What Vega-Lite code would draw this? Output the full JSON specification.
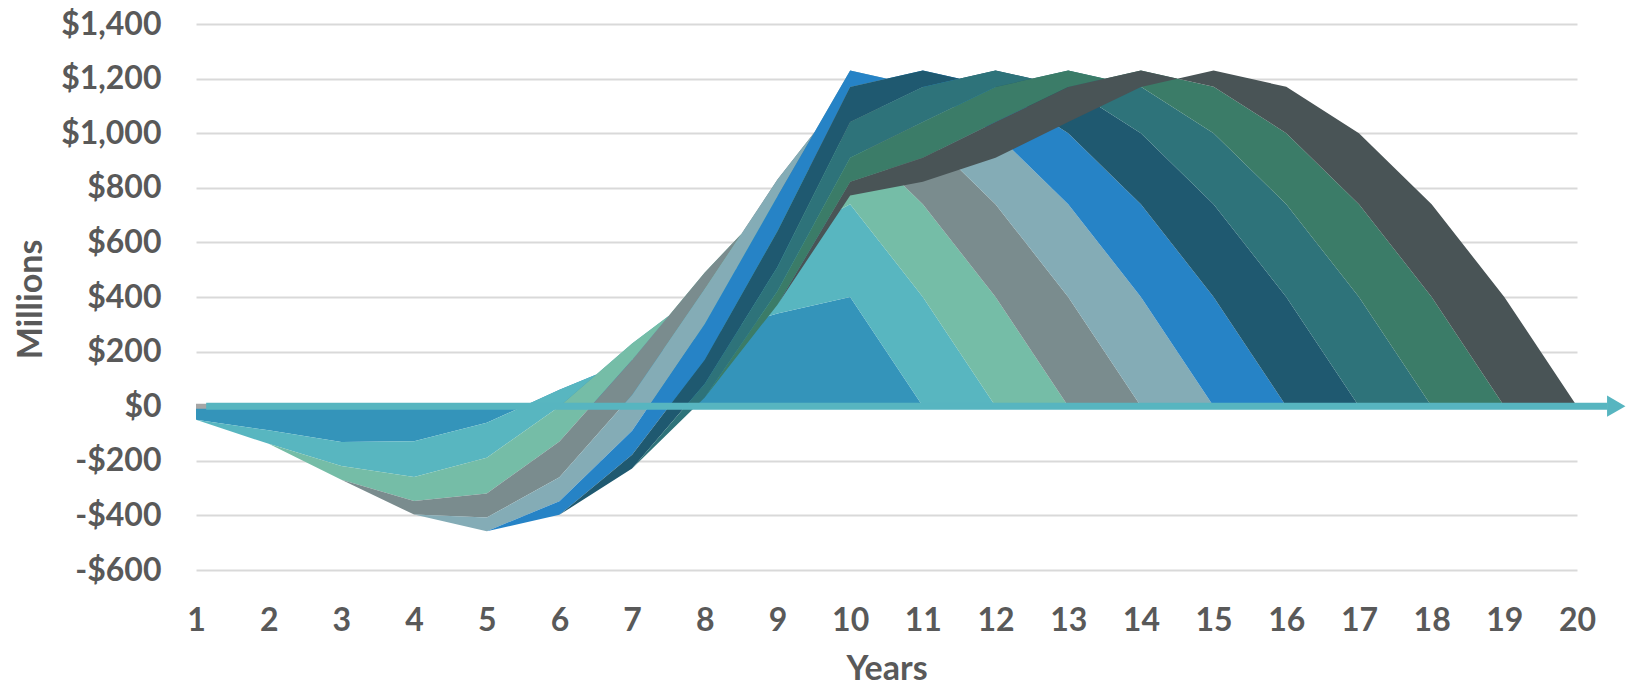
{
  "$schema": "https://vega.github.io/schema/vega-lite/v6.json",
  "width": 1381,
  "height": 546,
  "autosize": {"type": "none"},
  "padding": {"left": 196, "top": 24, "right": 50, "bottom": 117},
  "background": "white",
  "config": {"view": {"stroke": null}},
  "data": {"values": [
        {"s":1,"year":1,"v":-50},{"s":1,"year":2,"v":-88},{"s":1,"year":3,"v":-131},{"s":1,"year":4,"v":-128},{"s":1,"year":5,"v":-61},{"s":1,"year":6,"v":60},{"s":1,"year":7,"v":170},{"s":1,"year":8,"v":260},{"s":1,"year":9,"v":340},{"s":1,"year":10,"v":400},{"s":1,"year":11,"v":0},
        {"s":1,"year":12,"v":0},{"s":1,"year":13,"v":0},{"s":1,"year":14,"v":0},{"s":1,"year":15,"v":0},{"s":1,"year":16,"v":0},{"s":1,"year":17,"v":0},{"s":1,"year":18,"v":0},{"s":1,"year":19,"v":0},{"s":1,"year":20,"v":0},
        {"s":2,"year":1,"v":0},{"s":2,"year":2,"v":-50},{"s":2,"year":3,"v":-88},{"s":2,"year":4,"v":-131},{"s":2,"year":5,"v":-128},{"s":2,"year":6,"v":-61},{"s":2,"year":7,"v":60},{"s":2,"year":8,"v":170},{"s":2,"year":9,"v":260},{"s":2,"year":10,"v":340},{"s":2,"year":11,"v":400},{"s":2,"year":12,"v":0},
        {"s":3,"year":2,"v":0},{"s":3,"year":3,"v":-50},{"s":3,"year":4,"v":-88},{"s":3,"year":5,"v":-131},{"s":3,"year":6,"v":-128},{"s":3,"year":7,"v":-61},{"s":3,"year":8,"v":60},{"s":3,"year":9,"v":170},{"s":3,"year":10,"v":260},{"s":3,"year":11,"v":340},{"s":3,"year":12,"v":400},{"s":3,"year":13,"v":0},
        {"s":4,"year":3,"v":0},{"s":4,"year":4,"v":-50},{"s":4,"year":5,"v":-88},{"s":4,"year":6,"v":-131},{"s":4,"year":7,"v":-128},{"s":4,"year":8,"v":-61},{"s":4,"year":9,"v":60},{"s":4,"year":10,"v":170},{"s":4,"year":11,"v":260},{"s":4,"year":12,"v":340},{"s":4,"year":13,"v":400},{"s":4,"year":14,"v":0},
        {"s":5,"year":4,"v":0},{"s":5,"year":5,"v":-50},{"s":5,"year":6,"v":-88},{"s":5,"year":7,"v":-131},{"s":5,"year":8,"v":-128},{"s":5,"year":9,"v":-61},{"s":5,"year":10,"v":60},{"s":5,"year":11,"v":170},{"s":5,"year":12,"v":260},{"s":5,"year":13,"v":340},{"s":5,"year":14,"v":400},{"s":5,"year":15,"v":0},
        {"s":6,"year":5,"v":0},{"s":6,"year":6,"v":-50},{"s":6,"year":7,"v":-88},{"s":6,"year":8,"v":-131},{"s":6,"year":9,"v":-128},{"s":6,"year":10,"v":-61},{"s":6,"year":11,"v":60},{"s":6,"year":12,"v":170},{"s":6,"year":13,"v":260},{"s":6,"year":14,"v":340},{"s":6,"year":15,"v":400},{"s":6,"year":16,"v":0},
        {"s":7,"year":6,"v":0},{"s":7,"year":7,"v":-50},{"s":7,"year":8,"v":-88},{"s":7,"year":9,"v":-131},{"s":7,"year":10,"v":-128},{"s":7,"year":11,"v":-61},{"s":7,"year":12,"v":60},{"s":7,"year":13,"v":170},{"s":7,"year":14,"v":260},{"s":7,"year":15,"v":340},{"s":7,"year":16,"v":400},{"s":7,"year":17,"v":0},
        {"s":8,"year":7,"v":0},{"s":8,"year":8,"v":-50},{"s":8,"year":9,"v":-88},{"s":8,"year":10,"v":-131},{"s":8,"year":11,"v":-128},{"s":8,"year":12,"v":-61},{"s":8,"year":13,"v":60},{"s":8,"year":14,"v":170},{"s":8,"year":15,"v":260},{"s":8,"year":16,"v":340},{"s":8,"year":17,"v":400},{"s":8,"year":18,"v":0},
        {"s":9,"year":8,"v":0},{"s":9,"year":9,"v":-50},{"s":9,"year":10,"v":-88},{"s":9,"year":11,"v":-131},{"s":9,"year":12,"v":-128},{"s":9,"year":13,"v":-61},{"s":9,"year":14,"v":60},{"s":9,"year":15,"v":170},{"s":9,"year":16,"v":260},{"s":9,"year":17,"v":340},{"s":9,"year":18,"v":400},{"s":9,"year":19,"v":0},
        {"s":10,"year":9,"v":0},{"s":10,"year":10,"v":-50},{"s":10,"year":11,"v":-88},{"s":10,"year":12,"v":-131},{"s":10,"year":13,"v":-128},{"s":10,"year":14,"v":-61},{"s":10,"year":15,"v":60},{"s":10,"year":16,"v":170},{"s":10,"year":17,"v":260},{"s":10,"year":18,"v":340},{"s":10,"year":19,"v":400},{"s":10,"year":20,"v":0}
  ]},
  "transform": [
    {"window": [{"op": "sum", "field": "v", "as": "top"}], "groupby": ["year"], "sort": [{"field": "s", "order": "ascending"}], "frame": [null, 0]},
    {"window": [{"op": "lag", "field": "top", "param": 1, "as": "base"}], "groupby": ["year"], "sort": [{"field": "s", "order": "ascending"}]}
  ],
  "encoding": {
    "x": {
      "field": "year", "type": "quantitative",
      "scale": {"domain": [1, 20], "nice": false, "zero": false},
      "axis": {
        "values": [1,2,3,4,5,6,7,8,9,10,11,12,13,14,15,16,17,18,19,20],
        "grid": false, "domain": false, "ticks": false,
        "labelFont": "Lato", "labelFontWeight": "bold", "labelFontSize": 32, "labelColor": "#595959",
        "labelPadding": 50, "labelBaseline": "middle", "labelFlush": false, "labelOverlap": false,
        "title": "Years", "titleFont": "Lato", "titleFontWeight": "bold", "titleFontSize": 34, "titleColor": "#595959",
        "titleY": 99, "titleBaseline": "middle"
      }
    },
    "y": {
      "field": "top", "type": "quantitative",
      "scale": {"domain": [-600, 1400], "nice": false, "zero": false},
      "axis": {
        "values": [-600,-400,-200,0,200,400,600,800,1000,1200,1400],
        "labelExpr": "(datum.value < 0 ? '-$' : '$') + format(abs(datum.value), ',')",
        "grid": true, "gridColor": "#D9D9D9", "gridWidth": 2, "domain": false, "ticks": false,
        "labelFont": "Lato", "labelFontWeight": "bold", "labelFontSize": 32, "labelColor": "#595959",
        "labelPadding": 35,
        "title": "Millions", "titleFont": "Lato", "titleFontWeight": "bold", "titleFontSize": 34, "titleColor": "#595959",
        "titleX": -165, "titleY": 275, "titleAngle": -90, "titleAlign": "center", "titleBaseline": "middle"
      }
    },
    "color": {
      "field": "s", "type": "nominal",
      "scale": {"domain": [1,2,3,4,5,6,7,8,9,10], "range": ["#3494BA","#58B6C0","#75BDA7","#7A8C8E","#84ACB6","#2683C6","#1F5970","#2E737A","#3B7C68","#495456"]},
      "legend": null
    }
  },
  "layer": [
    {
      "transform": [{"filter": "datum.s == 1"}],
      "mark": {"type": "area"},
      "encoding": {"y2": {"datum": 0}}
    },
    {
      "transform": [{"filter": "datum.s > 1"}],
      "mark": {"type": "area"},
      "encoding": {"y2": {"field": "base"}}
    },
    {
      "data": {"values": [{"year": 1, "year2": 20, "top": 0}]},
      "mark": {"type": "rule", "color": "#A6A6A6", "strokeWidth": 5},
      "encoding": {"x": {"field": "year", "type": "quantitative"}, "x2": {"field": "year2"}, "y": {"field": "top", "type": "quantitative"}, "color": {"value": "#A6A6A6"}}
    },
    {
      "data": {"values": [{"year": 1.14, "year2": 20.42, "top": 0}]},
      "mark": {"type": "rule", "color": "#57B5C0", "strokeWidth": 7},
      "encoding": {"x": {"field": "year", "type": "quantitative"}, "x2": {"field": "year2"}, "y": {"field": "top", "type": "quantitative"}, "color": {"value": "#57B5C0"}}
    },
    {
      "data": {"values": [{"year": 20.54, "top": 0}]},
      "mark": {"type": "point", "shape": "triangle-right", "size": 450, "filled": true, "opacity": 1},
      "encoding": {"x": {"field": "year", "type": "quantitative"}, "y": {"field": "top", "type": "quantitative"}, "color": {"value": "#57B5C0"}}
    }
  ]
}
